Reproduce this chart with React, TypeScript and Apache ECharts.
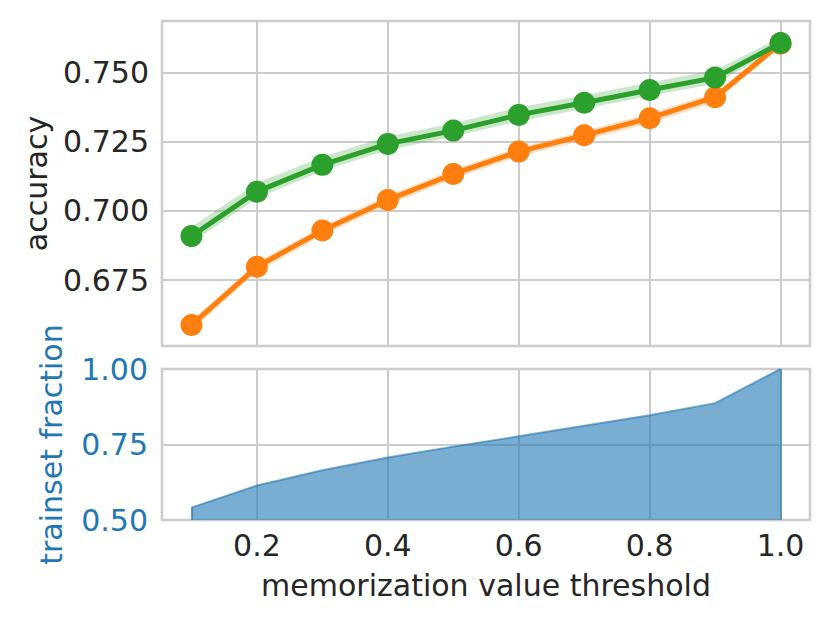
import React, { useEffect, useRef } from "react";
import * as echarts from "echarts";

const thresholds = [0.1, 0.2, 0.3, 0.4, 0.5, 0.6, 0.7, 0.8, 0.9, 1.0];
const greenAcc = [0.6909, 0.707, 0.7167, 0.7243, 0.7291, 0.7348, 0.7392, 0.7438, 0.7483, 0.7608];
const greenLow = [0.6885, 0.7046, 0.7145, 0.7221, 0.7269, 0.7325, 0.737, 0.7416, 0.7461, 0.7592];
const greenHigh = [0.6942, 0.7101, 0.7196, 0.727, 0.7318, 0.7375, 0.7419, 0.7465, 0.751, 0.7628];
const orangeAcc = [0.6587, 0.6798, 0.6929, 0.704, 0.7134, 0.7215, 0.7274, 0.7336, 0.7412, 0.7606];
const orangeLow = [0.6568, 0.678, 0.6911, 0.7022, 0.7116, 0.7197, 0.7256, 0.7317, 0.7393, 0.7594];
const orangeHigh = [0.6603, 0.6814, 0.6945, 0.7056, 0.715, 0.7231, 0.729, 0.7353, 0.7429, 0.7618];
const trainsetFraction = [0.541, 0.614, 0.665, 0.707, 0.743, 0.777, 0.812, 0.847, 0.887, 1.0];

const xTicks = [0.2, 0.4, 0.6, 0.8, 1.0];
const accTicks = [0.675, 0.7, 0.725, 0.75];

const FONT = "DejaVu Sans";
const FS = 30;
const TXT = "#262626";
const BLUE = "#1f77b4";
const GRIDC = "#cccccc";

function bandSeries(low: number[], high: number[], fill: string) {
  return {
    type: "custom",
    xAxisIndex: 0,
    yAxisIndex: 0,
    silent: true,
    z: 1,
    data: thresholds.map((x, i) => [x, low[i], high[i]]),
    encode: { x: 0, y: [1, 2] },
    renderItem: (params: any, api: any) => {
      if (params.dataIndex !== 0) return null;
      const upper = thresholds.map((x, i) => api.coord([x, high[i]]));
      const lower = thresholds.map((x, i) => api.coord([x, low[i]])).reverse();
      return {
        type: "polygon",
        shape: { points: upper.concat(lower) },
        style: { fill, stroke: "none" },
      };
    },
  };
}

export default function App() {
  const ref = useRef<HTMLDivElement>(null);
  useEffect(() => {
    if (!ref.current) return;
    const chart = echarts.init(ref.current, undefined, { renderer: "svg" });
    const pts = (ys: number[]) => thresholds.map((x, i) => [x, ys[i]]);
    const splitLine = { show: true, lineStyle: { color: GRIDC, width: 2 } };
    const xBase = {
      type: "value" as const,
      min: 0.055,
      max: 1.045,
      axisLine: { show: false },
      axisTick: { show: false, customValues: xTicks },
      splitLine,
    };
    const n = thresholds.length - 1;
    chart.setOption({
      animation: false,
      textStyle: { fontFamily: FONT },
      grid: [
        { left: 162, right: 20, top: 21, height: 325, show: true, borderColor: GRIDC, borderWidth: 2.5, containLabel: false },
        { left: 162, right: 20, top: 369, height: 151, show: true, borderColor: GRIDC, borderWidth: 2.5, containLabel: false },
      ],
      xAxis: [
        { ...xBase, gridIndex: 0, axisLabel: { show: false, customValues: xTicks } },
        {
          ...xBase,
          gridIndex: 1,
          axisLabel: {
            show: true,
            customValues: xTicks,
            formatter: (v: number) => v.toFixed(1),
            color: TXT,
            fontSize: FS,
            fontFamily: FONT,
            margin: 10,
          },
          name: "memorization value threshold",
          nameLocation: "middle",
          nameGap: 50,
          nameTextStyle: { color: TXT, fontSize: FS, fontFamily: FONT },
        },
      ],
      yAxis: [
        {
          type: "value",
          gridIndex: 0,
          min: 0.6511,
          max: 0.7688,
          axisLine: { show: false },
          axisTick: { show: false, customValues: accTicks },
          axisLabel: {
            customValues: accTicks,
            formatter: (v: number) => v.toFixed(3),
            color: TXT,
            fontSize: FS,
            fontFamily: FONT,
            margin: 13,
          },
          splitLine,
          name: "accuracy",
          nameLocation: "middle",
          nameGap: 111,
          nameTextStyle: { color: TXT, fontSize: FS, fontFamily: FONT },
        },
        {
          type: "value",
          gridIndex: 1,
          min: 0.5,
          max: 1.0,
          interval: 0.25,
          axisLine: { show: false },
          axisTick: { show: false },
          axisLabel: {
            formatter: (v: number) => v.toFixed(2),
            color: BLUE,
            fontSize: FS,
            fontFamily: FONT,
            margin: 14,
          },
          splitLine,
          name: "trainset fraction",
          nameLocation: "middle",
          nameGap: 96,
          nameTextStyle: { color: BLUE, fontSize: FS, fontFamily: FONT },
        },
      ],
      series: [
        bandSeries(orangeLow, orangeHigh, "rgba(255,127,14,0.25)"),
        bandSeries(greenLow, greenHigh, "rgba(44,160,44,0.25)"),
        {
          type: "line", xAxisIndex: 0, yAxisIndex: 0, data: pts(orangeAcc),
          symbol: "circle", symbolSize: 22, showSymbol: true,
          lineStyle: { color: "#ff7f0e", width: 5 }, itemStyle: { color: "#ff7f0e" }, z: 3,
        },
        {
          type: "line", xAxisIndex: 0, yAxisIndex: 0, data: pts(greenAcc),
          symbol: "circle", symbolSize: 22, showSymbol: true,
          lineStyle: { color: "#2ca02c", width: 5 }, itemStyle: { color: "#2ca02c" }, z: 4,
        },
        {
          type: "line", xAxisIndex: 1, yAxisIndex: 1, data: pts(trainsetFraction),
          symbol: "none",
          lineStyle: { color: "rgba(31,119,180,0.6)", width: 2 },
          areaStyle: { color: "rgba(31,119,180,0.6)", opacity: 1, origin: "start" },
          markLine: {
            silent: true,
            symbol: "none",
            label: { show: false },
            lineStyle: { color: "rgba(31,119,180,0.6)", width: 2, type: "solid" },
            data: [
              [{ coord: [thresholds[0], 0.5] }, { coord: [thresholds[0], trainsetFraction[0]] }],
              [{ coord: [thresholds[n], 0.5] }, { coord: [thresholds[n], trainsetFraction[n]] }],
            ],
          },
          z: 2,
        },
      ],
    });
    return () => chart.dispose();
  }, []);
  return (
    <div
      ref={ref}
      style={{ position: "fixed", left: 0, top: 0, width: 830, height: 624, background: "#ffffff" }}
    />
  );
}
